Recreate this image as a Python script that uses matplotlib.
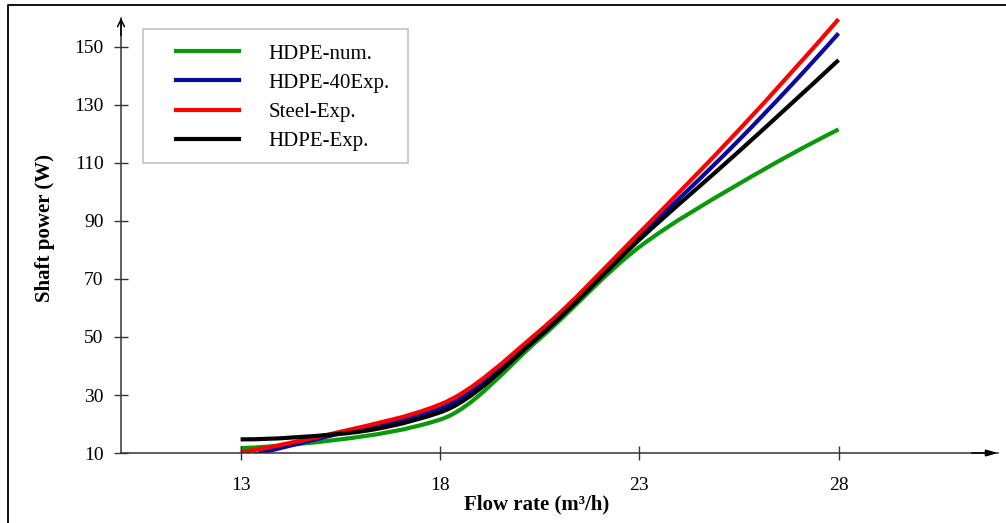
import matplotlib
matplotlib.use("Agg")
import matplotlib.pyplot as plt
from matplotlib.path import Path
from matplotlib.patches import PathPatch, Rectangle
from matplotlib.lines import Line2D
import numpy as np

plt.rcParams['font.family'] = ['Liberation Serif', 'DejaVu Serif']

# Flow rate (m3/h) and shaft power (W) for each pump configuration
flow = [13, 15.5, 18, 20.5, 23, 25.5, 28]
hdpe_num = [11.7, 14.7, 21.5, 49.4, 81.0, 102.8, 121.6]
hdpe_40exp = [8.3, 16.8, 25.3, 51.3, 84.5, 117.9, 154.7]
steel_exp = [10.2, 17.3, 26.7, 52.1, 85.9, 121.4, 159.6]
hdpe_exp = [14.7, 16.6, 24.0, 50.3, 83.5, 114.0, 145.5]

series = [
    ("HDPE-num.", hdpe_num, "#0a990a"),
    ("HDPE-40Exp.", hdpe_40exp, "#0a0aa0"),
    ("Steel-Exp.", steel_exp, "#ff0000"),
    ("HDPE-Exp.", hdpe_exp, "#000000"),
]

x_ticks = [13, 18, 23, 28]
y_ticks = [10, 30, 50, 70, 90, 110, 130, 150]


def pchip_slopes(x, y):
    """Shape-preserving (Fritsch-Carlson) tangents at each point."""
    h = np.diff(x)
    d = np.diff(y) / h
    n = len(x)
    m = np.zeros(n)
    for i in range(1, n - 1):
        if d[i - 1] * d[i] <= 0:
            m[i] = 0.0
        else:
            w1 = 2 * h[i] + h[i - 1]
            w2 = h[i] + 2 * h[i - 1]
            m[i] = (w1 + w2) / (w1 / d[i - 1] + w2 / d[i])

    def end(h0, h1, d0, d1):
        s = ((2 * h0 + h1) * d0 - h0 * d1) / (h0 + h1)
        if np.sign(s) != np.sign(d0):
            return 0.0
        if np.sign(d0) != np.sign(d1) and abs(s) > abs(3 * d0):
            return 3 * d0
        return s

    m[0] = end(h[0], h[1], d[0], d[1])
    m[-1] = end(h[-1], h[-2], d[-1], d[-2])
    return m


def smooth_path(xs, ys):
    """Cubic Bezier path through the points."""
    x = np.asarray(xs, float)
    y = np.asarray(ys, float)
    m = pchip_slopes(x, y)
    verts = [(x[0], y[0])]
    codes = [Path.MOVETO]
    for i in range(len(x) - 1):
        h = x[i + 1] - x[i]
        verts += [(x[i] + h / 3, y[i] + m[i] * h / 3),
                  (x[i + 1] - h / 3, y[i + 1] - m[i + 1] * h / 3),
                  (x[i + 1], y[i + 1])]
        codes += [Path.CURVE4] * 3
    return Path(verts, codes)


W, H = 1006, 523
fig = plt.figure(figsize=(W / 100, H / 100), dpi=100)
ax = fig.add_axes([121 / W, 1 - 453 / H, (998 - 121) / W, (453 - 18) / H])
ax.set_xlim(10, 32)
ax.set_ylim(10, 160)

for name, vals, col in series:
    patch = PathPatch(smooth_path(flow, vals), facecolor='none', edgecolor=col,
                      lw=3.0, capstyle='butt', joinstyle='round')
    ax.add_patch(patch)

axis_col = '#333333'
for s in ['top', 'right']:
    ax.spines[s].set_visible(False)
for s in ['left', 'bottom']:
    ax.spines[s].set_color(axis_col)
    ax.spines[s].set_linewidth(1.1)

ax.set_xticks(x_ticks)
ax.set_yticks(y_ticks)
ax.tick_params(direction='inout', length=10, width=1.0, color=axis_col,
               labelsize=14, labelcolor='black')
ax.tick_params(axis='y', pad=7.5)
ax.tick_params(axis='x', pad=12)

# arrow heads at the ends of both axes
ax.annotate('', xy=(1.0, 0), xytext=(0.97, 0), xycoords='axes fraction',
            arrowprops=dict(arrowstyle='-|>,head_length=0.7,head_width=0.2',
                            lw=1.1, color='black', shrinkA=0, shrinkB=0))
ax.annotate('', xy=(0, 1.0), xytext=(0, 0.96), xycoords='axes fraction',
            arrowprops=dict(arrowstyle='->,head_length=0.5,head_width=0.25',
                            lw=1.1, color='black', shrinkA=0, shrinkB=0))

fig.text(537 / W, 1 - 504 / H, 'Flow rate (m³/h)', ha='center', va='center',
         fontsize=15, fontweight='bold')
fig.text(45 / W, 1 - 228 / H, 'Shaft power (W)', ha='center', va='center',
         rotation=90, fontsize=15, fontweight='bold')

# legend frame and entries
fig.add_artist(Rectangle((143 / W, 1 - 163 / H), (408 - 143) / W, (163 - 29) / H,
                         transform=fig.transFigure, facecolor='white',
                         edgecolor='#c4c4c4', lw=1.2))
handles = [Line2D([], [], color=col, lw=3.0) for _, _, col in series]
labels = [name for name, _, _ in series]
fig.legend(handles, labels, loc='upper left', bbox_to_anchor=(176 / W, 1 - 44 / H),
           frameon=False, borderpad=0, borderaxespad=0, fontsize=15,
           handlelength=3.0, handletextpad=1.45, labelspacing=0.46)

# outer figure border (top and left edges)
fig.add_artist(Line2D([8 / W, 8 / W, 1.0], [0.0, 1 - 5 / H, 1 - 5 / H],
                      transform=fig.transFigure, color='#111111', lw=1.4))

fig.savefig('out.png', dpi=100)
